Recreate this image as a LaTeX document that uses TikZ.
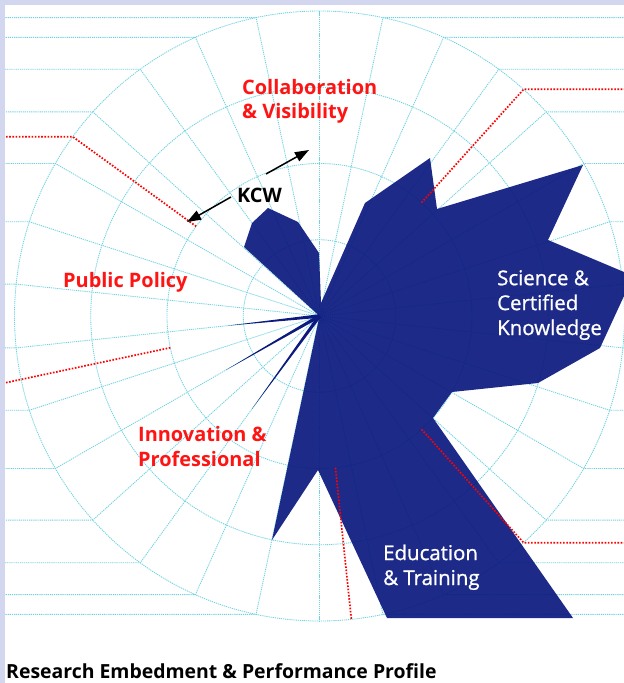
\documentclass[tikz,border=0pt]{standalone}
\usepackage{fontspec}
\setmainfont{Open Sans}
\newfontfamily\medfont[FakeBold=0.9]{Open Sans}
\usetikzlibrary{arrows.meta,calc}
\definecolor{bgl}{RGB}{210,214,238}
\definecolor{gridc}{RGB}{110,210,226}
\definecolor{navy}{RGB}{12,26,128}
\definecolor{redl}{RGB}{255,20,20}
\begin{document}
\begin{tikzpicture}[x=1bp,y=-1bp,
  gridline/.style={draw=gridc, line width=0.85bp, dash pattern=on 1.2bp off 0.9bp},
  reddot/.style={draw=red, line width=1.7bp, dash pattern=on 1.6bp off 1.6bp},
  profile/.style={fill=navy, fill opacity=0.93},
  spike/.style={fill=navy},
  redlab/.style={text=redl, font=\bfseries\fontsize{20}{25}\selectfont, align=left, inner sep=0, anchor=base west},
  whitelab/.style={text=white, font=\medfont\fontsize{20.5}{25}\selectfont, align=left, inner sep=0, anchor=base west},
  kcwlab/.style={text=black, font=\bfseries\fontsize{20}{24}\selectfont, inner sep=0},
  titlelab/.style={text=black, font=\bfseries\fontsize{19.5}{23}\selectfont, inner sep=0, anchor=base west},
  kcwarrow/.style={draw=black, line width=1.5bp, -{Triangle[length=14bp,width=10bp]}}
]
\useasboundingbox (0,0) rectangle (624,683);
\fill[bgl] (0,0) rectangle (624,683);
\fill[white] (5,5) rectangle (624,683);
\def\R{305}
\coordinate (C) at (319.5,316);
\coordinate (Rr) at (624,0);
\coordinate (Ll) at (5,0);
% concentric circles
\foreach \r in {76.25,152.5,228.75,305}
  \draw[gridline] (C) circle[radius=\r];
% spokes turning horizontal at the rim
\foreach \a in {6,18,30,42,54,66,78,282,294,306,318,330,342,354}
  \draw[gridline] (C) -- ++(-\a:\R) coordinate (e) -- (e -| Rr);
\foreach \a in {102,114,...,258}
  \draw[gridline] (C) -- ++(-\a:\R) coordinate (e) -- (e -| Ll);
\foreach \a in {90,270}
  \draw[gridline] (C) -- ++(-\a:\R);
% profile
\fill[profile] (C) -- (244,247) -- (252,223) -- (268,208) -- (298,222) -- (319,253)
  -- (321,303) -- (365,203) -- (430,158) -- (437,209) -- (583,165) -- (548,240)
  -- (624,272) -- (624,296) -- (600,348) -- (538,383) -- (452,392) -- (433,418)
  -- (573,618) -- (387,618) -- (318,470) -- (272,540) -- cycle;
% thin spikes
\foreach \a/\l in {186/92,210/108,234/115}
  \fill[spike] ($(C)+(-\a-90:1.8)$) -- ($(C)+(-\a:\l)$) -- ($(C)+(-\a+90:1.8)$) -- cycle;
% sector boundaries
\draw[reddot] ($(C)+(-48:152.5)$) -- ($(C)+(-48:\R)$) coordinate (e) -- (e -| Rr);
\draw[reddot] ($(C)+(-144:152.5)$) -- ($(C)+(-144:\R)$) coordinate (e) -- (e -| Ll);
\draw[reddot] ($(C)+(-192:152.5)$) -- ($(C)+(-192:321.5)$);
\draw[reddot] ($(C)+(-276:152.5)$) -- ($(C)+(-276:\R)$);
\draw[reddot] ($(C)+(48:152.5)$) -- ($(C)+(48:\R)$) coordinate (e) -- (e -| Rr);
% labels (anchor = baseline of the last line)
\node[redlab] (collab) at (242,119) {Collaboration\\\& Visibility};
\node[redlab] (policy) at (63,287) {Public Policy};
\node[redlab] (innov) at (138,466) {Innovation \&\\Professional};
\node[whitelab] (science) at (497,335) {Science \&\\Certified\\Knowledge};
\node[whitelab] (educ) at (383,585) {Education\\\& Training};
\node[kcwlab] (kcw) at (259.5,195) {KCW};
\coordinate (kcwA) at (187,222);
\coordinate (kcwB) at (309,150);
\coordinate (kcwa) at (231,197);
\coordinate (kcwb) at (266,174);
\draw[kcwarrow] (kcwa) -- (kcwA);
\draw[kcwarrow] (kcwb) -- (kcwB);
\node[titlelab] (title) at (6,678) {Research Embedment \& Performance Profile};
\end{tikzpicture}
\end{document}
